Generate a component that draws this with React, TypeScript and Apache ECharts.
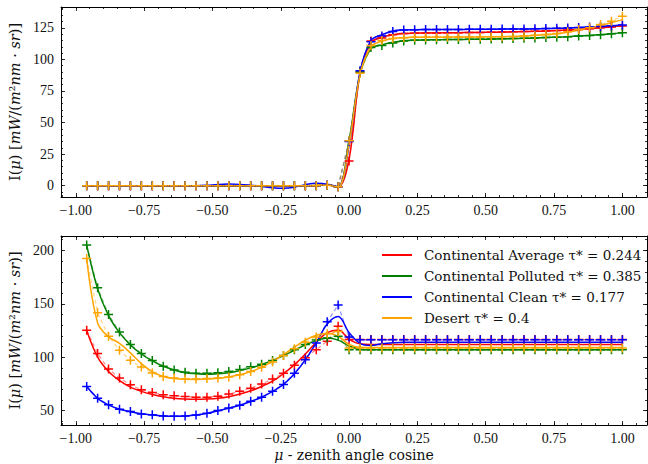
import React, { useEffect, useRef } from 'react';
import * as echarts from 'echarts';

// mu grid (zenith angle cosine) of the sampled points
const MU = [-0.96, -0.92, -0.88, -0.84, -0.8, -0.76, -0.72, -0.68, -0.64, -0.6, -0.56, -0.52, -0.48, -0.44, -0.4, -0.36, -0.32, -0.28, -0.24, -0.2, -0.16, -0.12, -0.08, -0.04,
  0, 0.04, 0.08, 0.12, 0.16, 0.2, 0.24, 0.28, 0.32, 0.36, 0.4, 0.44, 0.48, 0.52, 0.56, 0.6, 0.64, 0.68, 0.72, 0.76, 0.8, 0.84, 0.88, 0.92, 0.96, 1];

const NAMES = ['Continental Average τ* = 0.244', 'Continental Polluted τ* = 0.385', 'Continental Clean τ* = 0.177', 'Desert τ* = 0.4'];
const COLORS = ['#ff0000', '#008000', '#0000ff', '#ffa500'];

// ---- top panel ----
const TOP_AVG_PTS = [0, 0, 0, 0, 0, 0, 0, 0, 0, 0, 0, 0, 0, 0, 0, 0, 0, 0, 0, 0, 0, 0, 0.3, -0.8,
  19.5, 90, 114.5, 117, 119.5, 120.5, 120.8, 121, 121, 121.1, 121.2, 121.3, 121.4, 121.5, 121.6, 121.8, 122, 122.2, 122.5, 122.8, 123.2, 123.7, 124.3, 125, 125.7, 126.5];
const TOP_AVG_LINE = [-0.5, -0.5, -0.5, -0.5, -0.5, -0.5, -0.5, -0.5, -0.5, -0.5, -0.5, -0.5, -0.5, -0.5, -0.5, -0.5, -0.5, -0.5, -0.5, -0.5, -0.3, 0, 0.5, -1,
  21, 89, 113.5, 117.5, 119.5, 120.5, 120.8, 121, 121, 121.1, 121.2, 121.3, 121.4, 121.5, 121.6, 121.8, 122, 122.2, 122.5, 122.8, 123.2, 123.7, 124.3, 125, 125.8, 126.8];
const TOP_POL_PTS = [0, 0, 0, 0, 0, 0, 0, 0, 0, 0, 0, 0, 0, 0, 0, 0, 0, 0, 0, 0, 0, 0, 0.3, -0.8,
  35.5, 90, 109.5, 111, 113, 114.5, 115.2, 115.4, 115.6, 115.7, 115.8, 115.9, 116, 116.1, 116.3, 116.5, 116.7, 117, 117.3, 117.6, 118, 118.5, 119, 119.6, 120.3, 121.2];
const TOP_POL_LINE = [0, 0, 0, 0, 0, 0, 0, 0, 0, 0, 0, 0, 0, 0, 0, 0, 0, 0, 0, 0, 0, 0.2, 0.5, -1,
  36, 88, 108.5, 111.5, 113.5, 114.8, 115.2, 115.4, 115.6, 115.7, 115.8, 115.9, 116, 116.1, 116.3, 116.5, 116.7, 117, 117.3, 117.6, 118, 118.5, 119, 119.6, 120.3, 121.2];
const TOP_CLN_PTS = [0, 0, 0, 0, 0, 0, 0, 0, 0, 0, 0, 0, 0, 0, 0, 0, 0, 0, 0, 0, 0, 0, 0.5, -0.8,
  35, 91, 114, 118.5, 122, 123.3, 123.5, 123.6, 123.6, 123.7, 123.7, 123.8, 123.8, 123.9, 124, 124, 124.1, 124.2, 124.4, 124.6, 124.9, 125.2, 125.6, 126, 126.6, 127.2];
const TOP_CLN_LINE = [0, 0, 0, 0, 0, 0, 0, 0, 0, 0, 0, 0.3, 0.9, 1.2, 1.0, 0.3, -0.6, -1.6, -2, -1.2, 0.8, 1.8, 1.2, -1,
  32, 90, 115, 119.5, 122.5, 123.3, 123.5, 123.6, 123.6, 123.7, 123.7, 123.8, 123.8, 123.9, 124, 124, 124.1, 124.2, 124.4, 124.6, 124.9, 125.2, 125.6, 126, 126.6, 127.2];
const TOP_DES_PTS = [0, 0, 0, 0, 0, 0, 0, 0, 0, 0, 0, 0, 0, 0, 0, 0, 0, 0, 0, 0, 0, 0, 0.3, -0.8,
  35.5, 89, 111, 115, 116.5, 117.2, 117.5, 117.6, 117.6, 117.6, 117.7, 117.7, 117.8, 117.9, 118, 118.2, 118.5, 119.1, 119.8, 120.5, 121.8, 123.7, 125, 127.6, 130.3, 134.2];
const TOP_DES_LINE = [0, 0, 0, 0, 0, 0, 0, 0, 0, 0, 0, 0, 0, 0, 0, 0, 0, 0, 0, 0, 0, 0.3, 0.6, -1.3,
  33, 88, 110, 114.5, 116.5, 117.2, 117.5, 117.6, 117.6, 117.6, 117.7, 117.7, 117.8, 117.9, 118, 118.2, 118.5, 119, 119.6, 120.4, 121.5, 123, 124.8, 126.8, 129, 131.5];

// ---- bottom panel ----
const BOT_AVG_PTS = [125.3, 103.4, 88.9, 80.4, 74.2, 69.5, 67, 64.8, 63.8, 63.2, 62.5, 62.5, 63.5, 65.5, 68, 71, 75, 79.5, 85, 92.5, 99.5, 107, 115, 129,
  116.5, 116.5, 116.5, 116.5, 116.5, 116.5, 116.5, 116.5, 116.5, 116.5, 116.5, 116.5, 116.5, 116.5, 116.5, 116.5, 116.5, 116.5, 116.5, 116.5, 116.5, 116.5, 116.5, 116.5, 116.5, 116.5];
const BOT_AVG_LINE = [125, 100, 86.5, 78, 72, 68, 65, 63, 61.5, 60.8, 60.5, 60.8, 61.5, 63, 65.5, 68.5, 72.5, 77.5, 84.5, 93, 103, 114, 123, 125.5,
  117, 112.5, 112, 112, 112, 112, 112, 112, 112, 112, 112, 112, 112, 112, 112, 112, 112, 112, 112, 112, 112, 112, 112, 112, 112, 112];
const BOT_POL_PTS = [205, 165, 140, 123.5, 112, 103.5, 97, 91.5, 88, 86, 85, 85, 85.5, 86.5, 88.5, 91, 93.5, 97, 101.5, 107, 112, 116, 118, 119.5,
  107, 107, 107, 107, 107, 107, 107, 107, 107, 107, 107, 107, 107, 107, 107, 107, 107, 107, 107, 107, 107, 107, 107, 107, 107, 107];
const BOT_POL_LINE = [205, 164, 139, 123, 111.5, 103, 96.5, 91.5, 88, 85.5, 84.5, 84, 84.5, 85.5, 87.5, 90, 93, 97, 101.5, 106.5, 111.5, 115.5, 118, 116,
  110.5, 107.5, 107, 107, 107, 107, 107, 107, 107, 107, 107, 107, 107, 107, 107, 107, 107, 107, 107, 107, 107, 107, 107, 107, 107, 107];
const BOT_CLN_PTS = [72.6, 61.6, 55.4, 51.2, 49.1, 46.9, 46, 45, 44.8, 45, 45.8, 47.5, 50, 52.5, 55, 58.8, 62.5, 68.2, 74.5, 85, 97.7, 113.4, 133.2, 148.9,
  119, 116.3, 116.3, 116.3, 116.3, 116.3, 116.3, 116.3, 116.3, 116.3, 116.3, 116.3, 116.3, 116.3, 116.3, 116.3, 116.3, 116.3, 116.3, 116.3, 116.3, 116.3, 116.3, 116.3, 116.3, 116.3];
const BOT_CLN_LINE = [72.5, 61.5, 55.3, 51.2, 49, 47, 45.8, 45, 44.7, 45, 45.8, 47.3, 49.7, 52.3, 55, 58.5, 62.5, 68, 74.5, 84.5, 97.5, 113.5, 131, 138,
  123, 113, 111, 112.5, 113.5, 114, 114, 114, 114, 114, 114, 114, 114, 114, 114, 114, 114, 114, 114, 114, 114, 114, 114, 114, 114, 114];
const BOT_DES_PTS = [192.5, 141.6, 119.7, 106.5, 97.1, 90.8, 85.1, 82, 80.4, 79.5, 79.5, 80, 80.5, 81.5, 83.5, 86.5, 90.5, 95.5, 101.5, 108, 114, 119, 122, 124,
  108.5, 108.5, 108.5, 108.5, 108.5, 108.5, 108.5, 108.5, 108.5, 108.5, 108.5, 108.5, 108.5, 108.5, 108.5, 108.5, 108.5, 108.5, 108.5, 108.5, 108.5, 108.5, 108.5, 108.5, 108.5, 108.5];
const BOT_DES_LINE = [192, 132, 119, 113, 104, 94, 86.5, 82, 80, 79.3, 79.2, 79.5, 80.2, 81.5, 83.5, 86.5, 90.5, 96, 102.5, 109.5, 116, 120.5, 122.5, 119.5,
  112, 109.2, 109, 109, 109, 109, 109, 109, 109, 109, 109, 109, 109, 109, 109, 109, 109, 109, 109, 109, 109, 109, 109, 109, 109, 109];

// ---- axes ----
const X_MIN = -1.054;
const X_MAX = 1.09;
const X_MAJOR = [-1, -0.75, -0.5, -0.25, 0, 0.25, 0.5, 0.75, 1];
const TOP_Y = [-9, 141.5];
const TOP_Y_MAJOR = [0, 25, 50, 75, 100, 125];
const BOT_Y = [36.5, 213.5];
const BOT_Y_MAJOR = [50, 100, 150, 200];

const FONT = 'Liberation Serif';
const FONT2 = 'DejaVu Serif';

function range(a: number, b: number, step: number) {
  const out: number[] = [];
  for (let v = a; v <= b + 1e-9; v += step) out.push(Math.round(v * 1000) / 1000);
  return out;
}
const X_MINOR = range(-1.05, 1.05, 0.05);
const TOP_Y_MINOR = range(-5, 140, 5);
const BOT_Y_MINOR = range(40, 210, 10);

const fmtX = (v: number) => (v < 0 ? '\u2212' : '') + Math.abs(v).toFixed(2);

const AX_LINE = { color: '#000', width: 1 };
const TICK = { color: '#000', width: 0.8 };
const LABEL = { fontFamily: FONT, fontSize: 14, color: '#111' };

const Y_NAME = '{n|I(}{i|μ}{n|) [}{i|mW}{n|/(}{i|m}{n|²}{i|nm}{n| · }{i|sr}{n|)]}';
const X_NAME = '{i|μ}{n| - zenith angle cosine}';
const RICH_Y = {
  n: { fontFamily: FONT2, fontSize: 14.5, color: '#111' },
  i: { fontFamily: FONT2, fontSize: 14.5, color: '#111', fontStyle: 'italic' },
};
const RICH_X = {
  n: { fontFamily: FONT2, fontSize: 14, color: '#111' },
  i: { fontFamily: FONT2, fontSize: 14, color: '#111', fontStyle: 'italic' },
};

function mkX(g: number, withName: boolean) {
  const base: any = { type: 'value', gridIndex: g, min: X_MIN, max: X_MAX, splitLine: { show: false } };
  const main: any = {
    ...base, position: 'bottom',
    axisLine: { show: true, onZero: false, lineStyle: AX_LINE },
    axisTick: { show: true, inside: true, length: 4, customValues: X_MAJOR, lineStyle: TICK },
    axisLabel: { show: true, customValues: X_MAJOR, formatter: fmtX, margin: 6, ...LABEL },
  };
  if (withName) {
    Object.assign(main, { name: X_NAME, nameLocation: 'middle', nameGap: 23, nameTextStyle: { ...LABEL, rich: RICH_X } });
  }
  return [
    main,
    { ...base, position: 'bottom', axisLine: { show: false, onZero: false }, axisTick: { show: true, inside: true, length: 2, customValues: X_MINOR, lineStyle: TICK }, axisLabel: { show: false } },
    { ...base, position: 'top', axisLine: { show: true, onZero: false, lineStyle: AX_LINE }, axisTick: { show: true, inside: true, length: 4, customValues: X_MAJOR, lineStyle: TICK }, axisLabel: { show: false } },
    { ...base, position: 'top', axisLine: { show: false, onZero: false }, axisTick: { show: true, inside: true, length: 2, customValues: X_MINOR, lineStyle: TICK }, axisLabel: { show: false } },
  ];
}

function mkY(g: number, lim: number[], major: number[], minor: number[]) {
  const base: any = { type: 'value', gridIndex: g, min: lim[0], max: lim[1], splitLine: { show: false } };
  return [
    {
      ...base, position: 'left',
      axisLine: { show: true, onZero: false, lineStyle: AX_LINE },
      axisTick: { show: true, inside: true, length: 4, customValues: major, lineStyle: TICK },
      axisLabel: { show: true, customValues: major, formatter: (v: number) => String(v), margin: 7, ...LABEL },
      name: Y_NAME, nameLocation: 'middle', nameGap: 33, nameRotate: 90, nameTextStyle: { ...LABEL, rich: RICH_Y },
    },
    { ...base, position: 'left', axisLine: { show: false, onZero: false }, axisTick: { show: true, inside: true, length: 2, customValues: minor, lineStyle: TICK }, axisLabel: { show: false } },
    { ...base, position: 'right', axisLine: { show: true, onZero: false, lineStyle: AX_LINE }, axisTick: { show: true, inside: true, length: 4, customValues: major, lineStyle: TICK }, axisLabel: { show: false } },
    { ...base, position: 'right', axisLine: { show: false, onZero: false }, axisTick: { show: true, inside: true, length: 2, customValues: minor, lineStyle: TICK }, axisLabel: { show: false } },
  ];
}

const PLUS = 'path://M0,5L10,5M5,0L5,10';

const PANELS = [
  { pts: [TOP_AVG_PTS, TOP_POL_PTS, TOP_CLN_PTS, TOP_DES_PTS], lines: [TOP_AVG_LINE, TOP_POL_LINE, TOP_CLN_LINE, TOP_DES_LINE] },
  { pts: [BOT_AVG_PTS, BOT_POL_PTS, BOT_CLN_PTS, BOT_DES_PTS], lines: [BOT_AVG_LINE, BOT_POL_LINE, BOT_CLN_LINE, BOT_DES_LINE] },
];

function buildOption() {
  const series: any[] = [];
  PANELS.forEach((p, g) => {
    COLORS.forEach((c, i) => {
      series.push({
        type: 'line', name: NAMES[i], xAxisIndex: g * 4, yAxisIndex: g * 4,
        data: MU.map((x, k) => [x, p.lines[i][k]]),
        smooth: 0.35, showSymbol: false, symbol: 'none', color: c,
        lineStyle: { color: c, width: 1.5 }, emphasis: { disabled: true },
      });
      series.push({
        type: 'line', name: NAMES[i] + ' (points)', xAxisIndex: g * 4, yAxisIndex: g * 4,
        data: MU.map((x, k) => [x, p.pts[i][k]]),
        symbol: PLUS, symbolSize: 9, color: c,
        itemStyle: { color: c, borderColor: c, borderWidth: 1.5 },
        lineStyle: { color: c, width: 1.2, type: [4, 3], opacity: 0.45 },
        emphasis: { disabled: true },
      });
    });
  });

  return {
    animation: false,
    backgroundColor: '#ffffff',
    grid: [
      { left: 61, top: 7, width: 586, height: 190, outerBoundsMode: 'none' },
      { left: 61, top: 236, width: 586, height: 189, outerBoundsMode: 'none' },
    ],
    xAxis: [...mkX(0, false), ...mkX(1, true)],
    yAxis: [...mkY(0, TOP_Y, TOP_Y_MAJOR, TOP_Y_MINOR), ...mkY(1, BOT_Y, BOT_Y_MAJOR, BOT_Y_MINOR)],
    legend: {
      data: NAMES.map((n) => ({ name: n, icon: 'rect' })),
      orient: 'vertical', left: 382, top: 247, padding: 0,
      itemWidth: 30, itemHeight: 2, itemGap: 5, selectedMode: false,
      textStyle: { fontFamily: FONT2, fontSize: 13.5, color: '#111', lineHeight: 16, padding: [0, 0, 0, 7] },
    },
    series,
  };
}

export default function App() {
  const ref = useRef<HTMLDivElement>(null);
  useEffect(() => {
    if (!ref.current) return;
    const chart = echarts.init(ref.current, null, { renderer: 'svg' });
    chart.setOption(buildOption() as any);
    return () => chart.dispose();
  }, []);
  return (
    <div
      ref={ref}
      style={{ position: 'fixed', left: 0, top: 0, width: 648, height: 464, background: '#fff' }}
    />
  );
}
